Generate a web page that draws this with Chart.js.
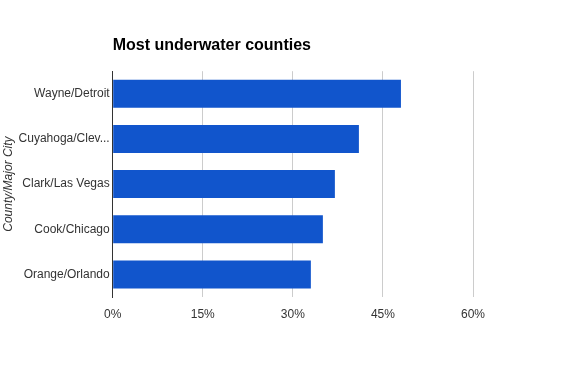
<!DOCTYPE html>
<html>
<head>
<meta charset="utf-8">
<script src="https://cdn.jsdelivr.net/npm/chart.js@4"></script>
<style>
  html, body { margin: 0; padding: 0; background: #fff; }
  canvas { display: block; }
</style>
</head>
<body>
<canvas id="underwaterChart" width="585" height="371"></canvas>
<script>
// Share of mortgages underwater, by county
const counties = ['Wayne/Detroit', 'Cuyahoga/Cleveland', 'Clark/Las Vegas', 'Cook/Chicago', 'Orange/Orlando'];
const underwaterPct = [48, 41, 37, 35, 33];
const xTicks = [0, 15, 30, 45, 60];

const fontFamily = 'Arial, "Liberation Sans", sans-serif';

function shorten(label) {
    return label.length > 16 ? label.slice(0, 13) + '...' : label;
}

const ctx = document.getElementById('underwaterChart').getContext('2d');

new Chart(ctx, {
    type: 'bar',
    data: {
        labels: counties,
        datasets: [{
            data: underwaterPct,
            backgroundColor: '#1155cc',
            borderWidth: 0,
            categoryPercentage: 1,
            barPercentage: 0.62
        }]
    },
    options: {
        indexAxis: 'y',
        responsive: false,
        animation: false,
        layout: { padding: { left: 0, right: 112, top: 0, bottom: 0 } },
        plugins: {
            legend: { display: false },
            tooltip: { enabled: false },
            title: {
                display: true,
                text: 'Most underwater counties',
                align: 'start',
                fullSize: false,
                color: '#000',
                font: { family: fontFamily, size: 16, weight: 'bold' },
                padding: { top: 36, bottom: 16 }
            }
        },
        scales: {
            x: {
                min: 0,
                max: 60,
                afterBuildTicks: scale => {
                    scale.ticks = xTicks.map(v => ({ value: v }));
                },
                afterFit: scale => { scale.height = 74; },
                grid: { color: '#cccccc', drawTicks: false },
                border: { display: false },
                ticks: {
                    color: '#333',
                    padding: 10,
                    font: { family: fontFamily, size: 12 },
                    callback: v => v + '%'
                }
            },
            y: {
                afterFit: scale => { scale.width = 112.7; },
                grid: { display: false, drawTicks: false },
                border: { display: true, color: '#333', width: 1 },
                ticks: {
                    color: '#333',
                    padding: 3,
                    font: { family: fontFamily, size: 12 },
                    callback: function (v) { return shorten(this.getLabelForValue(v)); }
                },
                title: {
                    display: true,
                    text: 'County/Major City',
                    color: '#333',
                    padding: { top: 1, bottom: 0 },
                    font: { family: fontFamily, size: 12, style: 'italic' }
                }
            }
        }
    }
});
</script>
</body>
</html>
